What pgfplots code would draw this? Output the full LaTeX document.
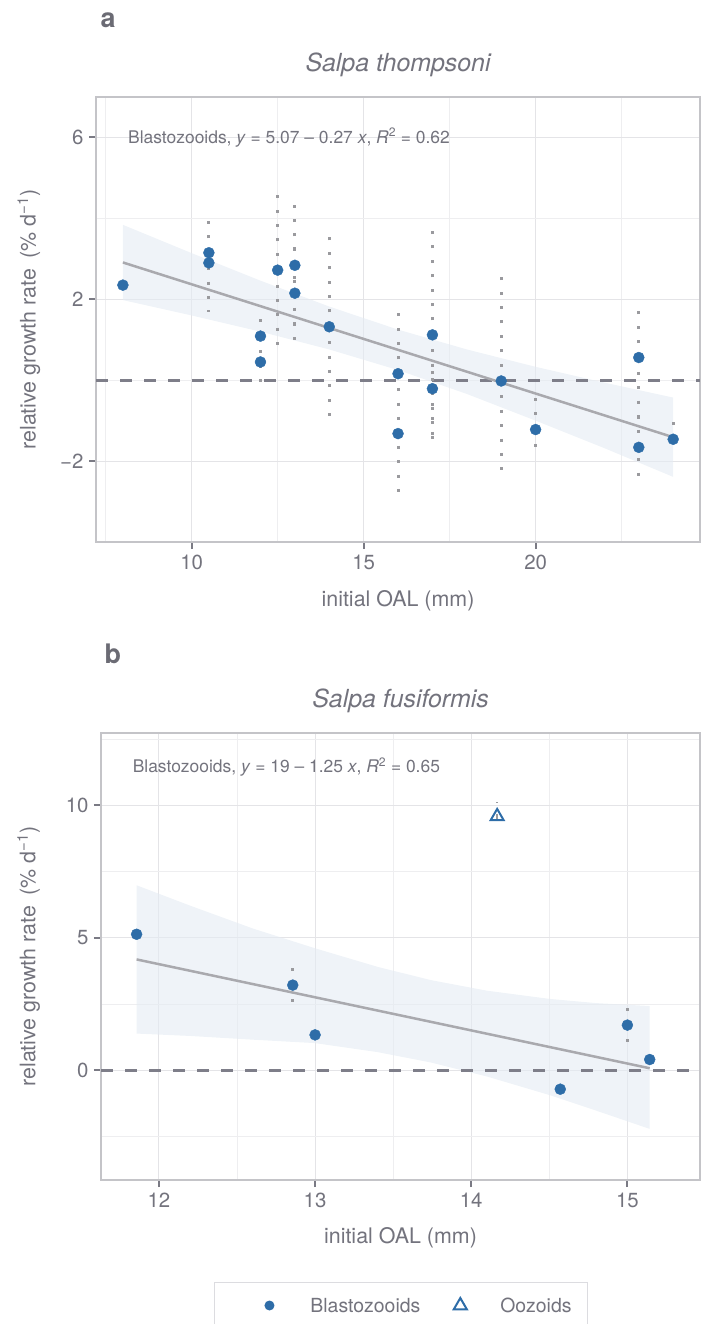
\documentclass[border=0pt]{standalone}
\usepackage{pgfplots}
\pgfplotsset{compat=1.18}
\usepackage{pgfplotstable}
\usepgfplotslibrary{fillbetween}
\usepackage{fontspec}
\setmainfont{TeX Gyre Heros}
\definecolor{ptblue}{HTML}{2E6DA8}
\definecolor{textcol}{HTML}{73737D}
\definecolor{lettercol}{HTML}{6B6B74}
\definecolor{bordercol}{HTML}{C4C4C8}
\definecolor{gridcol}{HTML}{E4E4E7}
\definecolor{gridmin}{HTML}{EEEEF0}
\definecolor{tickcol}{HTML}{7A7A84}
\definecolor{regcol}{HTML}{A9A9AE}
\definecolor{errcol}{HTML}{9A9A9E}
\definecolor{hlcol}{HTML}{7E7E89}
\definecolor{bandcol}{HTML}{E4EBF3}
\definecolor{legcol}{HTML}{DCDCE0}

% Salpa thompsoni blastozooids: x, y, error plus, error minus
\pgfplotstableread{
x y ep em
8 2.35 0 0
10.5 3.15 1.06 1.46
10.5 2.90 0 0
12 1.09 0.60 1.36
12 0.45 0 0
12.5 2.72 1.98 1.96
13 2.84 1.70 2.12
13 2.15 1.45 0.95
14 1.32 2.43 2.21
16 0.16 1.51 3.01
16 -1.32 0 0
17 1.12 2.72 2.62
17 -0.21 0.71 1.19
19 -0.02 2.58 2.41
20 -1.22 0.81 0.64
23 0.56 1.31 3.05
23 -1.66 0.76 0.34
24 -1.46 0.45 0.27
}\thompPts

\pgfplotstableread{
x up lo
8 3.84 1.98
10 3.14 1.60
12 2.46 1.20
14 1.82 0.76
16 1.25 0.25
18 0.76 -0.34
20 0.33 -1.00
22 -0.06 -1.68
24 -0.43 -2.39
}\thompBand

\pgfplotstableread{
x y ep em
11.857 5.13 0.38 0.53
12.857 3.21 1.03 1.07
13.0 1.33 0.43 0.43
14.57 -0.72 0.43 0.43
15.0 1.70 0.82 0.82
15.143 0.40 0.51 0.52
}\fusiBlast

\pgfplotstableread{
x y ep em
14.166 9.58 0.56 0.52
}\fusiOoz

\pgfplotstableread{
x up lo
11.857 6.98 1.38
12.2 6.21 1.29
12.6 5.35 1.15
13.0 4.60 1.02
13.4 3.90 0.68
13.74 3.40 0.29
14.1 3.00 -0.24
14.5 2.69 -0.94
14.8 2.53 -1.53
15.143 2.42 -2.22
}\fusiBand

\pgfplotsset{
  salpaaxis/.style={
    scale only axis,
    axis line style={draw=bordercol, line width=1.3bp},
    grid=both,
    major grid style={draw=gridcol, line width=1.1bp},
    minor grid style={draw=gridmin, line width=0.8bp},
    tick align=outside,
    tick pos=left,
    major tick length=7bp,
    minor tick length=0pt,
    every tick/.style={draw=tickcol, line width=2bp},
    /pgf/number format/assume math mode=true,
    ticklabel style={font=\fontsize{20.5}{24}\selectfont, text=textcol},
    xticklabel style={yshift=-2.5bp},
    yticklabel style={xshift=-2bp},
    title style={font=\itshape\fontsize{25}{30}\selectfont, text=textcol,
      at={(axis description cs:0.5,1)}, anchor=center, yshift=26bp},
    xlabel={initial OAL (mm)},
    ylabel={relative growth rate\enspace(\% d\textsuperscript{−1})},
  },
}

\begin{document}
\begin{tikzpicture}

\node[anchor=base west, font=\bfseries\fontsize{27}{30}\selectfont, text=lettercol] at (97bp,-27bp) {a};
\node[anchor=base west, font=\bfseries\fontsize{27}{30}\selectfont, text=lettercol] at (101bp,-663bp) {b};

% ---------------- panel a ----------------
\begin{axis}[salpaaxis,
  at={(96bp,-542bp)}, anchor=south west,
  width=604bp, height=445bp,
  xmin=7.218, xmax=24.78, ymin=-4.0, ymax=7.0,
  xtick={10,15,20}, minor xtick={7.5,12.5,17.5,22.5},
  ytick={-2,2,6}, yticklabels={−2,2,6}, minor ytick={-4,0,4},
  title={Salpa thompsoni},
  every axis x label/.style={at={(axis description cs:0.5,-0.1326)}, anchor=center,
    font=\fontsize{21.5}{25}\selectfont, text=textcol},
  every axis y label/.style={at={(axis description cs:-0.111,0.5)}, rotate=90, anchor=center,
    font=\fontsize{21.5}{25}\selectfont, text=textcol},
]
\addplot[hlcol, line width=2.8bp, dash pattern=on 12bp off 12bp, forget plot] coordinates {(7.218,0) (24.78,0)};
\addplot[name path=bua, draw=none, forget plot] table[x=x, y=up] {\thompBand};
\addplot[name path=bla, draw=none, forget plot] table[x=x, y=lo] {\thompBand};
\addplot[fill=bandcol, fill opacity=0.6, draw=none, forget plot] fill between[of=bua and bla];
\addplot[draw=none, forget plot,
  error bars/.cd, y dir=both, y explicit, error mark=none,
  error bar style={errcol, line width=3bp, dash pattern=on 3bp off 11.4bp}]
  table[x=x, y=y, y error plus=ep, y error minus=em] {\thompPts};
\addplot[regcol, line width=2.5bp, forget plot] coordinates {(8,2.91) (24,-1.41)};
\addplot[only marks, mark=*, mark size=5.5bp, ptblue, mark options={draw=ptblue, fill=ptblue}, forget plot]
  table[x=x, y=y] {\thompPts};
\node[anchor=west, font=\fontsize{17.5}{20}\selectfont, text=textcol] at (axis cs:8.05,6)
  {Blastozooids, \textit{y} = 5.07 – 0.27 \textit{x}, \textit{R}\textsuperscript{2} = 0.62};
\end{axis}

% ---------------- panel b ----------------
\begin{axis}[salpaaxis,
  at={(101bp,-1180bp)}, anchor=south west,
  width=599bp, height=447bp,
  xmin=11.629, xmax=15.465, ymin=-4.15, ymax=12.73,
  xtick={12,13,14,15}, minor xtick={12.5,13.5,14.5},
  ytick={0,5,10}, minor ytick={-2.5,2.5,7.5,12.5},
  title={Salpa fusiformis},
  every axis x label/.style={at={(axis description cs:0.5,-0.1298)}, anchor=center,
    font=\fontsize{21.5}{25}\selectfont, text=textcol},
  every axis y label/.style={at={(axis description cs:-0.121,0.5)}, rotate=90, anchor=center,
    font=\fontsize{21.5}{25}\selectfont, text=textcol},
  legend columns=2,
  legend cell align=left,
  legend style={at={(axis description cs:0.1886,-0.2275)}, anchor=north west,
    draw=legcol, line width=1bp, fill=white, inner xsep=0pt, inner ysep=0pt,
    nodes={inner sep=0pt, text depth=0pt},
    font=\fontsize{19.5}{22}\selectfont, text=textcol},
]
\addplot[hlcol, line width=2.8bp, dash pattern=on 12bp off 12bp, forget plot] coordinates {(11.629,0) (15.465,0)};
\addplot[name path=bub, draw=none, forget plot] table[x=x, y=up] {\fusiBand};
\addplot[name path=blb, draw=none, forget plot] table[x=x, y=lo] {\fusiBand};
\addplot[fill=bandcol, fill opacity=0.6, draw=none, forget plot] fill between[of=bub and blb];
\addplot[draw=none, forget plot,
  error bars/.cd, y dir=both, y explicit, error mark=none,
  error bar style={errcol, line width=2.6bp, dash pattern=on 2.6bp off 11.6bp}]
  table[x=x, y=y, y error plus=ep, y error minus=em] {\fusiBlast};
\addplot[draw=none, forget plot,
  error bars/.cd, y dir=both, y explicit, error mark=none,
  error bar style={errcol, line width=2.6bp, dash pattern=on 2.6bp off 11.6bp}]
  table[x=x, y=y, y error plus=ep, y error minus=em] {\fusiOoz};
\addplot[regcol, line width=2.5bp, forget plot] coordinates {(11.857,4.18) (15.143,0.07)};
\addplot[only marks, mark=*, mark size=5.5bp, ptblue, mark options={draw=ptblue, fill=ptblue},
  legend image code/.code={
    \path[draw=none, fill=none] (0bp,-23.3bp) rectangle (96bp,23.3bp);
    \fill[ptblue, draw=none] (55bp,0bp) circle (5bp);}]
  table[x=x, y=y] {\fusiBlast};
\addlegendentry{Blastozooids}
\addplot[only marks, mark=triangle, mark size=7.5bp, ptblue, mark options={draw=ptblue, line width=2bp, fill=none},
  legend image code/.code={
    \path[draw=none, fill=none] (0bp,-23.3bp) rectangle (80bp,23.3bp);
    \draw[ptblue, line width=2bp, fill=none] (40bp,7.5bp) -- (33.5bp,-3.75bp) -- (46.5bp,-3.75bp) -- cycle;}]
  table[x=x, y=y] {\fusiOoz};
\addlegendentry{Oozoids\kern16bp}
\node[anchor=west, font=\fontsize{17.5}{20}\selectfont, text=textcol] at (axis cs:11.81,11.45)
  {Blastozooids, \textit{y} = 19 – 1.25 \textit{x}, \textit{R}\textsuperscript{2} = 0.65};
\end{axis}

\pgfresetboundingbox
\path[use as bounding box] (0bp,0bp) rectangle (708bp,-1324bp);
\end{tikzpicture}
\end{document}
